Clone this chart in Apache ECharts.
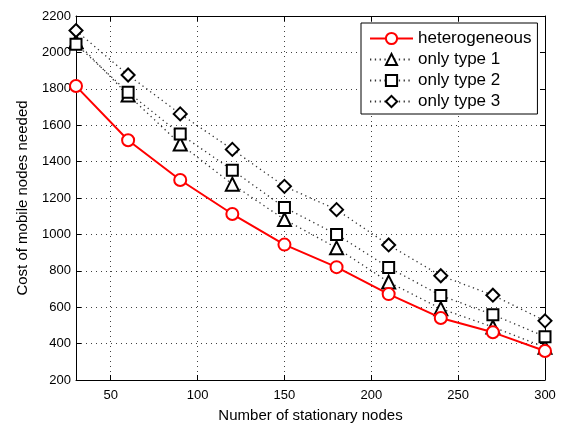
<!DOCTYPE html>
<html><head><meta charset="utf-8">
<script src="https://cdn.jsdelivr.net/npm/echarts@6/dist/echarts.min.js"></script>
<style>html,body{margin:0;padding:0;background:#fff}#c{width:566px;height:428px}</style>
</head><body><div id="c"></div>
<script>
const xValues = [30, 60, 90, 120, 150, 180, 210, 240, 270, 300];
const heterogeneous = [1815, 1517, 1299, 1112, 944, 820, 672, 541, 462, 359];
const onlyType1 = [2060, 1766, 1497, 1276, 1082, 926, 738, 592, 491, 380];
const onlyType2 = [2045, 1781, 1551, 1353, 1148, 1000, 818, 664, 559, 438];
const onlyType3 = [2120, 1876, 1662, 1467, 1264, 1136, 942, 773, 666, 525];
const xTicks = [50, 100, 150, 200, 250, 300];
const seriesNames = ['heterogeneous', 'only type 1', 'only type 2', 'only type 3'];

const FONT = '"Liberation Sans", Arial, Helvetica, sans-serif';
const pairs = a => a.map((v, i) => [xValues[i], v]);

const chart = echarts.init(document.getElementById('c'), null, {renderer: 'canvas'});
const gridLine = {show: true, lineStyle: {color: '#000', type: [1, 4], width: 1, opacity: 0.75}};
const blackSeries = (name, data, symbol, size) => ({
  name, type: 'line', data: pairs(data), symbol, symbolSize: size,
  lineStyle: {color: '#333', width: 1.3, type: [1.3, 3.5]},
  itemStyle: {color: '#000', borderColor: '#000', borderWidth: 1.8},
  z: 3
});
chart.setOption({
  animation: false,
  backgroundColor: '#fff',
  grid: {left: 76, right: 21, top: 16, bottom: 43, containLabel: false},
  xAxis: [{
    type: 'value', min: 30, max: 300,
    axisLine: {show: true, onZero: false, lineStyle: {color: '#000', width: 1}},
    axisTick: {show: true, inside: true, length: 5, customValues: xTicks, lineStyle: {color: '#000'}},
    axisLabel: {customValues: xTicks, color: '#000', fontFamily: FONT, fontSize: 13, margin: 9,
      formatter: v => String(v)},
    splitLine: gridLine,
    name: 'Number of stationary nodes', nameLocation: 'middle', nameGap: 28,
    nameTextStyle: {color: '#000', fontFamily: FONT, fontSize: 15}
  }, {
    type: 'value', min: 30, max: 300, position: 'top',
    axisLine: {show: true, onZero: false, lineStyle: {color: '#000', width: 1}},
    axisTick: {show: true, inside: true, length: 5, customValues: xTicks, lineStyle: {color: '#000'}},
    axisLabel: {show: false}, splitLine: {show: false}
  }],
  yAxis: [{
    type: 'value', min: 200, max: 2200, interval: 200,
    axisLine: {show: true, onZero: false, lineStyle: {color: '#000', width: 1}},
    axisTick: {show: true, inside: true, length: 5, lineStyle: {color: '#000'}},
    axisLabel: {color: '#000', fontFamily: FONT, fontSize: 13, margin: 5, formatter: v => String(v)},
    splitLine: gridLine,
    name: 'Cost of mobile nodes needed', nameLocation: 'middle', nameGap: 46,
    nameTextStyle: {color: '#000', fontFamily: FONT, fontSize: 15}
  }, {
    type: 'value', min: 200, max: 2200, interval: 200, position: 'right',
    axisLine: {show: true, onZero: false, lineStyle: {color: '#000', width: 1}},
    axisTick: {show: true, inside: true, length: 5, lineStyle: {color: '#000'}},
    axisLabel: {show: false}, splitLine: {show: false}
  }],
  legend: {
    show: true, data: seriesNames, orient: 'vertical',
    left: 361, top: 23,
    backgroundColor: '#fff', borderColor: '#000', borderWidth: 1,
    padding: [7, 6, 4, 8], itemGap: 4, itemWidth: 43, itemHeight: 14,
    textStyle: {color: '#000', fontFamily: FONT, fontSize: 17, lineHeight: 17}
  },
  series: [
    {
      name: seriesNames[0], type: 'line', data: pairs(heterogeneous),
      symbol: 'emptyCircle', symbolSize: 12,
      lineStyle: {color: '#f00', width: 2},
      itemStyle: {color: '#f00', borderColor: '#f00', borderWidth: 1.8}, z: 4
    },
    blackSeries(seriesNames[1], onlyType1, 'emptyTriangle', 13),
    blackSeries(seriesNames[2], onlyType2, 'emptyRect', 11),
    blackSeries(seriesNames[3], onlyType3, 'emptyDiamond', 13)
  ]
});
</script></body></html>
